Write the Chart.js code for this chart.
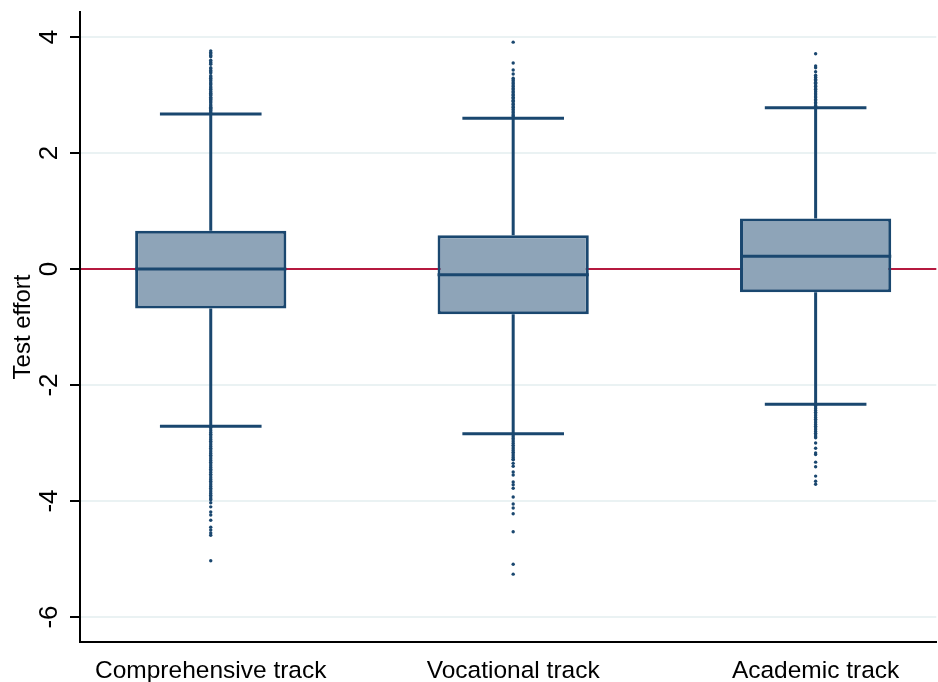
<!DOCTYPE html>
<html>
<head>
<meta charset="utf-8">
<script src="https://cdn.jsdelivr.net/npm/chart.js@4.4.1/dist/chart.umd.min.js"></script>
<style>
  html, body { margin: 0; padding: 0; background: #ffffff; }
  #wrap { width: 938px; height: 682px; }
</style>
</head>
<body>
<div id="wrap"><canvas id="chart" width="938" height="682"></canvas></div>
<script>
// Test effort by school track: box summaries and outlying observations
const tracks = ['Comprehensive track', 'Vocational track', 'Academic track'];
const q1 = [-0.68, -0.78, -0.40];
const median = [0.00, -0.10, 0.22];
const q3 = [0.66, 0.58, 0.87];
const lowerWhisker = [-2.71, -2.84, -2.33];
const upperWhisker = [2.67, 2.60, 2.78];

const outliersComprehensive = [
  2.69, 2.71, 2.73, 2.75, 2.77, 2.79, 2.81, 2.83, 2.86, 2.88, 2.90, 2.92, 2.94, 2.96,
  2.99, 3.01, 3.03, 3.05, 3.07, 3.10, 3.12, 3.14, 3.17, 3.19, 3.21, 3.24, 3.26, 3.29,
  3.31, 3.33, 3.38, 3.40, 3.42, 3.45, 3.47, 3.53, 3.55, 3.57, 3.60, 3.66, 3.68, 3.71,
  3.73, 3.76,
  -2.73, -2.76, -2.79, -2.82, -2.85, -2.88, -2.91, -2.94, -2.97, -3.00, -3.03, -3.06,
  -3.09, -3.12, -3.15, -3.18, -3.21, -3.24, -3.27, -3.30, -3.33, -3.36, -3.39, -3.42,
  -3.45, -3.48, -3.51, -3.54, -3.57, -3.60, -3.63, -3.66, -3.69, -3.72, -3.75, -3.78,
  -3.81, -3.84, -3.87, -3.90, -3.93, -3.96, -3.98, -4.03, -4.10, -4.19, -4.24, -4.33,
  -4.45, -4.50, -4.55, -4.59, -5.03
];
const outliersVocational = [
  2.62, 2.64, 2.66, 2.69, 2.71, 2.74, 2.76, 2.79, 2.81, 2.84, 2.86, 2.89, 2.91, 2.94,
  2.96, 2.99, 3.01, 3.04, 3.06, 3.09, 3.11, 3.14, 3.16, 3.19, 3.21, 3.24, 3.26, 3.29,
  3.36, 3.43, 3.55, 3.91,
  -2.86, -2.89, -2.92, -2.95, -2.98, -3.01, -3.04, -3.07, -3.10, -3.13, -3.16, -3.19,
  -3.22, -3.25, -3.28, -3.29, -3.35, -3.40, -3.50, -3.55, -3.67, -3.72, -3.78, -3.93,
  -4.05, -4.12, -4.22, -4.53, -5.09, -5.26
];
const outliersAcademic = [
  2.80, 2.82, 2.85, 2.87, 2.90, 2.92, 2.95, 2.97, 3.00, 3.02, 3.05, 3.07, 3.10, 3.12,
  3.15, 3.17, 3.20, 3.22, 3.25, 3.27, 3.30, 3.31, 3.34, 3.40, 3.47, 3.50, 3.71,
  -2.35, -2.38, -2.41, -2.44, -2.47, -2.50, -2.53, -2.56, -2.59, -2.62, -2.65, -2.68,
  -2.71, -2.74, -2.77, -2.80, -2.83, -2.86, -2.89, -2.91, -3.00, -3.09, -3.17, -3.20,
  -3.33, -3.41, -3.57, -3.66, -3.71
];

const yTicks = [-6, -4, -2, 0, 2, 4];
const referenceValue = 0;

const NAVY = '#1a476f';
const BOX_FILL = '#8ea4b8';
const FONT = '"Liberation Sans", Arial, Helvetica, sans-serif';

const boxData = tracks.map((t, i) => ({ x: i + 1, y: [q1[i], q3[i]] }));
const outlierData = []
  .concat(outliersComprehensive.map(v => ({ x: 1, y: v })))
  .concat(outliersVocational.map(v => ({ x: 2, y: v })))
  .concat(outliersAcademic.map(v => ({ x: 3, y: v })));

// Red reference line at zero, behind the boxes
const referenceLinePlugin = {
  id: 'referenceLine',
  beforeDatasetsDraw(chart) {
    const { ctx, chartArea, scales } = chart;
    const y = scales.y.getPixelForValue(referenceValue);
    ctx.save();
    ctx.strokeStyle = '#b5193f';
    ctx.lineWidth = 2;
    ctx.beginPath();
    ctx.moveTo(chartArea.left + 1, y);
    ctx.lineTo(chartArea.right, y);
    ctx.stroke();
    ctx.restore();
  }
};

// Whiskers, whisker caps and medians
const boxPartsPlugin = {
  id: 'boxParts',
  afterDatasetsDraw(chart) {
    const { ctx, scales } = chart;
    const xs = scales.x, ys = scales.y;
    ctx.save();
    ctx.strokeStyle = NAVY;
    ctx.lineCap = 'butt';
    tracks.forEach((t, i) => {
      const cx = xs.getPixelForValue(i + 1);
      const capL = xs.getPixelForValue(i + 1 - 0.168);
      const capR = xs.getPixelForValue(i + 1 + 0.168);
      const boxL = xs.getPixelForValue(i + 1 - 0.25);
      const boxR = xs.getPixelForValue(i + 1 + 0.25);
      ctx.lineWidth = 3;
      ctx.beginPath();
      ctx.moveTo(cx, ys.getPixelForValue(q3[i]));
      ctx.lineTo(cx, ys.getPixelForValue(upperWhisker[i]));
      ctx.moveTo(cx, ys.getPixelForValue(q1[i]));
      ctx.lineTo(cx, ys.getPixelForValue(lowerWhisker[i]));
      ctx.stroke();
      ctx.beginPath();
      ctx.moveTo(capL, ys.getPixelForValue(upperWhisker[i]));
      ctx.lineTo(capR, ys.getPixelForValue(upperWhisker[i]));
      ctx.moveTo(capL, ys.getPixelForValue(lowerWhisker[i]));
      ctx.lineTo(capR, ys.getPixelForValue(lowerWhisker[i]));
      ctx.stroke();
      ctx.beginPath();
      ctx.moveTo(boxL, ys.getPixelForValue(median[i]));
      ctx.lineTo(boxR, ys.getPixelForValue(median[i]));
      ctx.stroke();
    });
    ctx.restore();
  }
};

// Vertical y tick labels
const yTickLabelPlugin = {
  id: 'yTickLabels',
  afterDraw(chart) {
    const { ctx, scales } = chart;
    ctx.save();
    ctx.fillStyle = '#000';
    ctx.font = '26px ' + FONT;
    ctx.textAlign = 'center';
    ctx.textBaseline = 'middle';
    yTicks.forEach(v => {
      const y = scales.y.getPixelForValue(v);
      ctx.save();
      ctx.translate(50, y);
      ctx.rotate(-Math.PI / 2);
      ctx.fillText(String(v), 0, 0);
      ctx.restore();
    });
    ctx.restore();
  }
};

new Chart(document.getElementById('chart'), {
  type: 'bar',
  data: {
    datasets: [
      {
        type: 'scatter',
        data: outlierData,
        backgroundColor: NAVY,
        borderWidth: 0,
        pointRadius: 1.7,
        pointHoverRadius: 1.7,
        order: 0
      },
      {
        type: 'bar',
        data: boxData,
        backgroundColor: BOX_FILL,
        borderColor: NAVY,
        borderWidth: 3,
        borderSkipped: false,
        barPercentage: 0.5,
        categoryPercentage: 1,
        grouped: false,
        order: 1
      }
    ]
  },
  options: {
    responsive: false,
    animation: false,
    devicePixelRatio: 1,
    layout: { padding: { top: 12, right: 0, left: 0, bottom: 0 } },
    plugins: {
      legend: { display: false },
      tooltip: { enabled: false }
    },
    scales: {
      x: {
        type: 'linear',
        offset: false,
        min: 0.5677,
        max: 3.399,
        afterBuildTicks(scale) {
          scale.ticks = tracks.map((t, i) => ({ value: i + 1 }));
        },
        afterFit(scale) { scale.height = 40; },
        grid: { display: false, offset: false },
        border: { display: true, color: '#000', width: 2 },
        ticks: {
          autoSkip: false,
          maxRotation: 0,
          padding: 7,
          color: '#000',
          font: { family: FONT, size: 24.5 },
          callback: v => tracks[v - 1] || ''
        }
      },
      y: {
        type: 'linear',
        min: -6.43,
        max: 4.43,
        afterBuildTicks(scale) {
          scale.ticks = yTicks.map(v => ({ value: v }));
        },
        afterFit(scale) { scale.width = 80; },
        grid: {
          color: '#eaf2f3',
          lineWidth: 2,
          drawTicks: true,
          tickLength: 10,
          tickColor: '#000',
          tickWidth: 2
        },
        border: { display: true, color: '#000', width: 2 },
        ticks: {
          color: 'rgba(0,0,0,0)',
          font: { family: FONT, size: 2 }
        },
        title: {
          display: true,
          text: 'Test effort',
          color: '#000',
          font: { family: FONT, size: 24 },
          padding: { top: 9, bottom: 0 }
        }
      }
    }
  },
  plugins: [referenceLinePlugin, boxPartsPlugin, yTickLabelPlugin]
});
</script>
</body>
</html>
